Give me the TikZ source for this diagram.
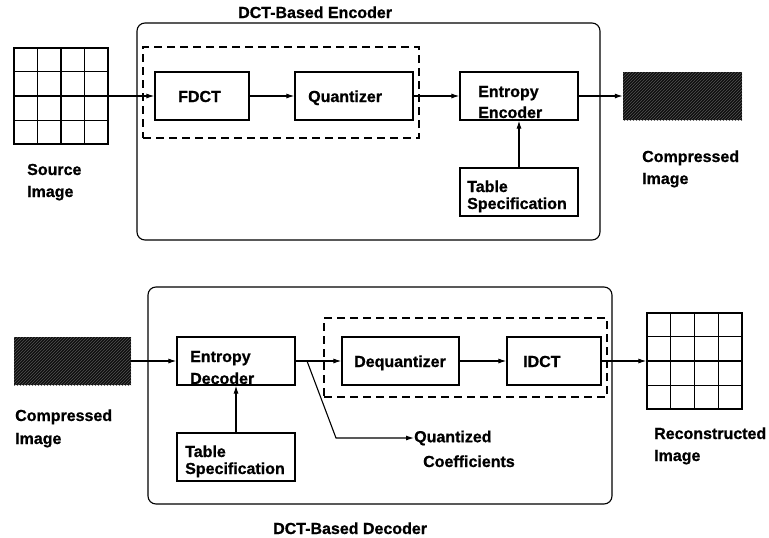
\documentclass[tikz,border=0pt]{standalone}
\usepackage{fontspec}
\setmainfont{Liberation Sans}[BoldFeatures={FakeBold=0.8}]
\usetikzlibrary{arrows.meta,patterns,fit,calc}
\begin{document}
\begin{tikzpicture}[x=1pt,y=-1pt,
  box/.style={draw, line width=1.2pt, inner sep=0pt},
  frame/.style={draw, line width=1.1pt, rounded corners=8pt},
  dashbox/.style={draw, line width=1.7pt, dash pattern=on 8pt off 5pt, inner sep=0pt},
  lbl/.style={inner sep=0pt, font=\fontsize{16}{19}\selectfont\bfseries},
  arr/.style={line width=1.1pt, -{Latex[length=8pt,width=5pt]}},
  gridimg/.style={draw, line width=1.3pt, inner sep=0pt},
  packed/.style={inner sep=0pt, fill=black!94,
    postaction={pattern=north east lines, pattern color=black!68}}]
\fill[white] (0,0) rectangle (769,538);
\useasboundingbox (0,0) rectangle (769,538);

% ---------------- encoder ----------------
\node[frame, inner sep=0pt, fit={(137,23) (600,240)}] (encframe) {};
\node[lbl, anchor=base west] (enctitle) at (238,18) {DCT-Based Encoder};
\node[dashbox, fit={(143,47) (419,138)}] (encdash) {};

\node[gridimg, fit={(14,48) (108,144)}] (src) {};
\foreach \i in {1,2,3} {
  \draw[line width=1.3pt] ($(src.north west)!\i/4!(src.north east)$) -- ($(src.south west)!\i/4!(src.south east)$);
  \draw[line width=1.3pt] ($(src.north west)!\i/4!(src.south west)$) -- ($(src.north east)!\i/4!(src.south east)$);
}
\node[lbl, anchor=base west] (src1) at (27,175) {Source};
\node[lbl, anchor=base west] (src2) at (27,197) {Image};

\node[box, fit={(155,72) (249,120)}] (fdct) {};
\node[lbl, anchor=base west] (fdctt) at (178,102) {FDCT};
\node[box, fit={(295,72) (413,120)}] (quant) {};
\node[lbl, anchor=base west] (quantt) at (308,102) {Quantizer};
\node[box, fit={(460,72) (578,120)}] (enc) {};
\node[lbl, anchor=base west] (enct1) at (478,97) {Entropy};
\node[lbl, anchor=base west] (enct2) at (478,118) {Encoder};
\node[box, fit={(460,168) (578,216)}] (tabenc) {};
\node[lbl, anchor=base west] (tabenct1) at (467,192) {Table};
\node[lbl, anchor=base west] (tabenct2) at (467,209) {Specification};

\node[packed, fit={(623,72) (742,120)}] (cimg) {};
\node[lbl, anchor=base west] (cimg1) at (642,162) {Compressed};
\node[lbl, anchor=base west] (cimg2) at (642,184) {Image};

\draw[arr] (src.east) -- (fdct.west);
\draw[arr] (fdct.east) -- (quant.west);
\draw[arr] (quant.east) -- (enc.west);
\draw[arr] (enc.east) -- (cimg.west);
\draw[arr] (tabenc.north) -- (enc.south);

% ---------------- decoder ----------------
\node[frame, inner sep=0pt, fit={(148,287) (612,504)}] (decframe) {};
\node[lbl, anchor=base west] (dectitle) at (273,534) {DCT-Based Decoder};
\node[dashbox, fit={(324,318) (607,397)}] (decdash) {};

\node[packed, fit={(14,337) (131,385)}] (dimg) {};
\node[lbl, anchor=base west] (dimg1) at (15,421) {Compressed};
\node[lbl, anchor=base west] (dimg2) at (15,444) {Image};

\node[box, fit={(177,337) (295,385)}] (dec) {};
\node[lbl, anchor=base west] (dect1) at (190,362) {Entropy};
\node[lbl, anchor=base west] (dect2) at (190,384) {Decoder};
\node[box, fit={(177,433) (295,481)}] (tabdec) {};
\node[lbl, anchor=base west] (tabdect1) at (185,457) {Table};
\node[lbl, anchor=base west] (tabdect2) at (185,474) {Specification};
\node[box, fit={(342,337) (459,385)}] (dequant) {};
\node[lbl, anchor=base west] (dequantt) at (354,367) {Dequantizer};
\node[box, fit={(507,337) (601,385)}] (idct) {};
\node[lbl, anchor=base west] (idctt) at (523,367) {IDCT};

\node[gridimg, fit={(647,313) (742,409)}] (rec) {};
\foreach \i in {1,2,3} {
  \draw[line width=1.3pt] ($(rec.north west)!\i/4!(rec.north east)$) -- ($(rec.south west)!\i/4!(rec.south east)$);
  \draw[line width=1.3pt] ($(rec.north west)!\i/4!(rec.south west)$) -- ($(rec.north east)!\i/4!(rec.south east)$);
}
\node[lbl, anchor=base west] (rec1) at (654,439) {Reconstructed};
\node[lbl, anchor=base west] (rec2) at (654,461) {Image};

\node[lbl, anchor=west] (qc1) at (414,438) {Quantized};
\node[lbl, anchor=base west] (qc2) at (423,467) {Coefficients};
\coordinate (qsplit) at (307,361);
\coordinate (qbend) at (336,438);

\draw[arr] (dimg.east) -- (dec.west);
\draw[arr] (dec.east) -- (dequant.west);
\draw[arr] (dequant.east) -- (idct.west);
\draw[arr] (idct.east) -- (rec.west);
\draw[arr] (tabdec.north) -- (dec.south);
\draw[arr] (qsplit) -- (qbend) -- (qc1.west);
\end{tikzpicture}
\end{document}
